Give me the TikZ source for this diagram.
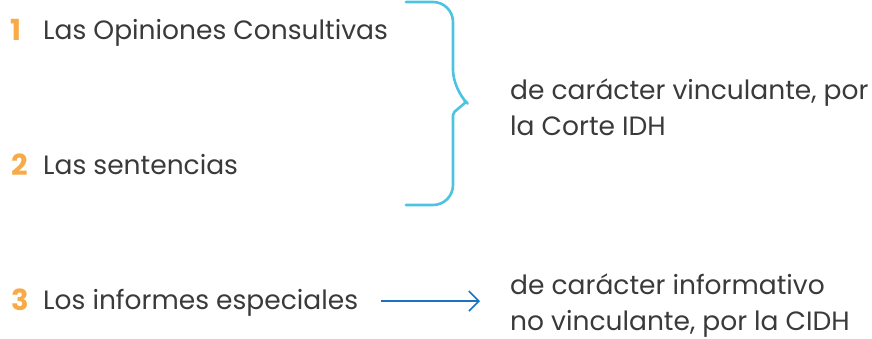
\documentclass[tikz,border=0pt]{standalone}
\usepackage{fontspec}
\setmainfont{Poppins}
\usetikzlibrary{arrows.meta}
\definecolor{txtgray}{HTML}{3A3A3A}
\definecolor{numorange}{HTML}{F8AA48}
\definecolor{bracecyan}{HTML}{4CC3E0}
\definecolor{arrowblue}{HTML}{1A72C2}
\tikzset{
  lbl/.style={anchor=base west, inner sep=0pt, text=txtgray, font=\fontsize{26.5}{36}\selectfont},
  num/.style={anchor=base west, inner sep=0pt, text=numorange, font=\fontsize{29}{36}\selectfont\bfseries},
  rlbl/.style={anchor=base west, inner sep=0pt, text=txtgray, align=left, font=\fontsize{26.5}{36}\selectfont},
  bracestyle/.style={draw=bracecyan, line width=2.6pt, line join=round, line cap=round},
  arr/.style={draw=arrowblue, line width=1.6pt, -{Straight Barb[length=10pt,width=20pt,line width=1.6pt]}}
}
\begin{document}
\begin{tikzpicture}[x=1pt,y=-1pt]
\useasboundingbox (0,0) rectangle (872,338);
\node[num] (n1) at (10,40) {1};
\node[lbl] (t1) at (43,39) {Las Opiniones Consultivas};
\node[num] (n2) at (11,175) {2};
\node[lbl] (t2) at (43,174) {Las sentencias};
\node[num] (n3) at (11,310) {3};
\node[lbl] (t3) at (43,309) {Los informes especiales};
\node[rlbl] (r1) at (510,135) {de carácter vinculante, por\\la Corte IDH};
\node[rlbl] (r2) at (510,330) {de carácter informativo\\no vinculante, por la CIDH};
\coordinate (btop) at (406,2);
\coordinate (bbot) at (406,205);
\draw[bracestyle] (btop) [rounded corners=20pt] -- (453,2) -- (453,90) [rounded corners=2pt] -- (466,102) -- (453,113) [rounded corners=20pt] -- (453,205) [sharp corners] -- (bbot);
\coordinate (as) at (381,301);
\coordinate (ae) at (480,301);
\draw[arr] (as) -- (ae);
\end{tikzpicture}
\end{document}
